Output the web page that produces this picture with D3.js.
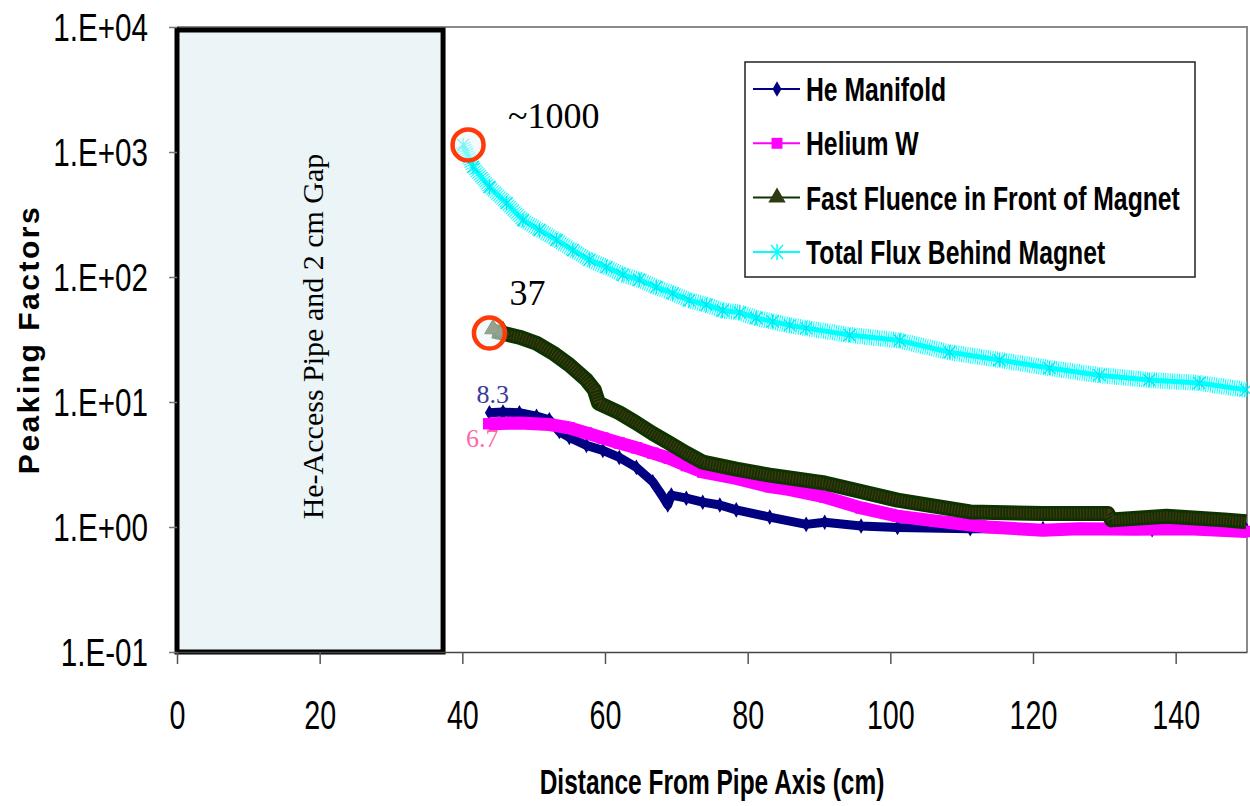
<!DOCTYPE html>
<html>
<head>
<meta charset="utf-8">
<script src="https://cdn.jsdelivr.net/npm/d3@7"></script>
<style>
    body { margin: 0; background: #fff; }
    text { font-family: "Liberation Sans", Arial, sans-serif; }
    .serif { font-family: "Liberation Serif", "Times New Roman", serif; }
</style>
</head>
<body>
<div id="chart"></div>
<script>
// axis ticks
const xTicks = [0, 20, 40, 60, 80, 100, 120, 140];
const yTicks = [0.1, 1, 10, 100, 1000, 10000];
const yTickLabels = ["1.E-01", "1.E+00", "1.E+01", "1.E+02", "1.E+03", "1.E+04"];

const seriesNames = ["He Manifold", "Helium W", "Fast Fluence in Front of Magnet", "Total Flux Behind Magnet"];

// shaded gap region (cm)
const gapBox = [0, 37.3];
const gapLabel = "He-Access Pipe and 2 cm Gap";

// [distance cm, peaking factor]
const heManifold = [
    [43.8, 8.2], [45.7, 8.3], [48.0, 8.2], [50.4, 7.7], [52.2, 7.2], [53.6, 5.8], [55.0, 5.2],
    [57.4, 4.5], [59.7, 4.1], [62.0, 3.6], [64.4, 3.0], [66.7, 2.3], [68.1, 1.75], [68.8, 1.5],
    [69.3, 1.8], [71.4, 1.7], [73.7, 1.58], [76.1, 1.5], [78.4, 1.37], [83.1, 1.2], [88.2, 1.05],
    [90.8, 1.09], [95.9, 1.02], [101.0, 0.99], [111.2, 0.97], [121.4, 0.97], [136.7, 0.95], [149.9, 0.95]
];
const heliumW = [
    [43.7, 6.7], [48.0, 6.8], [52.2, 6.6], [55.0, 6.2], [57.4, 5.65], [59.7, 5.15], [62.0, 4.7],
    [64.4, 4.3], [66.7, 3.9], [69.0, 3.55], [71.4, 3.1], [73.7, 2.75], [78.4, 2.45], [83.1, 2.1],
    [85.7, 2.0], [90.8, 1.74], [95.9, 1.42], [101.0, 1.22], [106.2, 1.12], [113.7, 1.0], [121.4, 0.94],
    [126.5, 0.97], [134.2, 0.96], [141.7, 0.97], [149.9, 0.92]
];
const fastFluence = [
    [44.3, 37], [45.7, 35.5], [48.0, 33], [50.4, 29.5], [52.7, 24.7], [55.0, 19.8], [57.4, 15],
    [58.5, 12.5], [59.1, 9.8], [62.0, 8.2], [64.4, 6.8], [66.7, 5.6], [69.0, 4.7], [71.4, 3.9],
    [73.7, 3.3], [78.4, 2.9], [83.1, 2.6], [90.8, 2.25], [101.0, 1.64], [111.2, 1.32], [121.4, 1.28],
    [130.5, 1.28], [131.0, 1.14], [138.7, 1.22], [146.8, 1.14], [149.9, 1.1]
];
const totalFlux = [
    [40.1, 1140], [41.5, 760], [43.8, 525], [46.2, 390], [48.5, 286], [50.8, 238], [53.2, 198],
    [55.5, 164], [57.8, 137], [60.2, 120], [62.5, 104], [64.8, 95], [67.2, 83], [69.5, 74],
    [71.8, 65], [74.2, 60], [76.5, 54], [78.9, 52], [81.2, 47], [83.5, 44], [85.9, 41], [88.2, 39],
    [94.3, 34.4], [101.3, 31], [108.3, 25], [115.3, 21.7], [122.3, 18.7], [129.3, 16.4],
    [136.3, 15], [143.3, 14.2], [149.9, 12.5]
];

// highlighted start points and their labels
const highlights = [[40.8, 1140], [43.8, 35.6]];
const notes = [
    {text: "~1000", x: 46.4, y: 1556, color: "#000", size: 36},
    {text: "37", x: 46.6, y: 59.7, color: "#000", size: 36},
    {text: "8.3", x: 42.0, y: 9.8, color: "#3a3a9a", size: 26},
    {text: "6.7", x: 40.5, y: 4.37, color: "#ff66aa", size: 26}
];

class PeakingChart {

    constructor(parentElement) {
        this.parentElement = parentElement;
        this.initVis();
    }

    initVis() {
        let vis = this;

        vis.margin = {top: 27, right: 3, bottom: 154, left: 177};
        vis.width = 1250 - vis.margin.left - vis.margin.right;
        vis.height = 806 - vis.margin.top - vis.margin.bottom;

        vis.root = d3.select("#" + vis.parentElement)
            .append("svg")
            .attr("width", 1250)
            .attr("height", 806);

        vis.svg = vis.root.append("g")
            .attr("transform", `translate(${vis.margin.left}, ${vis.margin.top})`);

        vis.xScale = d3.scaleLinear().domain([0, 150]).range([0, vis.width]);
        vis.yScale = d3.scaleLog().domain([0.1, 10000]).range([vis.height, 0]);

        vis.updateVis();
    }

    updateVis() {
        this.drawFrame();
        this.drawAxes();
        this.drawSeries();
        this.drawNotes();
        this.drawLegend();
    }

    drawFrame() {
        let vis = this;

        // thin grey plot border top and right
        vis.svg.append("path")
            .attr("d", `M0,0H${vis.width}V${vis.height}`)
            .attr("fill", "none")
            .attr("stroke", "#8a8a8a")
            .attr("stroke-width", 2);

        // gap box
        vis.svg.append("rect")
            .attr("x", vis.xScale(gapBox[0]))
            .attr("y", 3)
            .attr("width", vis.xScale(gapBox[1]) - vis.xScale(gapBox[0]))
            .attr("height", vis.height - 3)
            .attr("fill", "#ebf4f6")
            .attr("stroke", "#000")
            .attr("stroke-width", 5);

        vis.svg.append("text")
            .attr("class", "serif")
            .attr("transform", `translate(${vis.xScale((gapBox[0] + gapBox[1]) / 2) + 13}, ${vis.height / 2 - 3}) rotate(-90)`)
            .attr("text-anchor", "middle")
            .style("font-size", "30px")
            .text(gapLabel);
    }

    drawAxes() {
        let vis = this;

        let yAxis = d3.axisLeft(vis.yScale)
            .tickValues(yTicks)
            .tickFormat((d, i) => yTickLabels[i])
            .tickSize(8)
            .tickSizeOuter(0);

        let gy = vis.svg.append("g").attr("class", "y-axis").call(yAxis);
        gy.select(".domain").attr("stroke", "#000").attr("stroke-width", 3);
        gy.selectAll(".tick line").attr("stroke", "#777").attr("stroke-width", 1.5);
        gy.selectAll(".tick text")
            .attr("x", null)
            .attr("dy", "0.36em")
            .attr("transform", "translate(-29,0) scale(0.78,1)")
            .attr("fill", "#000")
            .style("font-size", "38px");

        let xAxis = d3.axisBottom(vis.xScale)
            .tickValues(xTicks)
            .tickSize(12)
            .tickSizeOuter(0);

        let gx = vis.svg.append("g")
            .attr("class", "x-axis")
            .attr("transform", `translate(0, ${vis.height})`)
            .call(xAxis);
        gx.select(".domain").attr("stroke", "#444").attr("stroke-width", 1.5);
        gx.selectAll(".tick line").attr("stroke", "#555").attr("stroke-width", 1.5);
        gx.selectAll(".tick text")
            .attr("y", 77)
            .attr("dy", null)
            .attr("transform", "scale(0.7,1)")
            .attr("fill", "#000")
            .style("font-size", "41px");

        // axis titles
        vis.root.append("text")
            .attr("transform", `translate(${vis.margin.left + vis.width / 2}, 794) scale(0.7,1)`)
            .attr("text-anchor", "middle")
            .style("font-size", "35px")
            .style("font-weight", "bold")
            .text("Distance From Pipe Axis (cm)");

        vis.root.append("text")
            .attr("transform", `translate(39, ${vis.margin.top + vis.height / 2}) rotate(-90)`)
            .attr("text-anchor", "middle")
            .style("font-size", "30px")
            .style("font-weight", "bold")
            .style("letter-spacing", "2.5px")
            .text("Peaking Factors");
    }

    drawSeries() {
        let vis = this;

        const line = d3.line()
            .x(d => vis.xScale(d[0]))
            .y(d => vis.yScale(d[1]));

        // He Manifold
        vis.svg.append("path")
            .datum(heManifold)
            .attr("fill", "none")
            .attr("stroke", "#000080")
            .attr("stroke-width", 9)
            .attr("stroke-linejoin", "round")
            .attr("d", line);
        vis.svg.append("g").selectAll("path")
            .data(heManifold)
            .join("path")
            .attr("transform", d => `translate(${vis.xScale(d[0])},${vis.yScale(d[1])})`)
            .attr("d", d3.symbol(d3.symbolDiamond).size(70))
            .attr("fill", "#000080");

        // Helium W
        vis.svg.append("path")
            .datum(heliumW)
            .attr("fill", "none")
            .attr("stroke", "#ff00ff")
            .attr("stroke-width", 13)
            .attr("d", line);
        vis.svg.append("g").selectAll("path")
            .data(heliumW)
            .join("path")
            .attr("transform", d => `translate(${vis.xScale(d[0])},${vis.yScale(d[1])})`)
            .attr("d", d3.symbol(d3.symbolSquare).size(130))
            .attr("fill", "#ff00ff");

        // Fast fluence
        vis.svg.append("path")
            .datum(fastFluence)
            .attr("fill", "none")
            .attr("stroke", "#0e3300")
            .attr("stroke-width", 15)
            .attr("stroke-linejoin", "round")
            .attr("d", line);
        vis.svg.append("path")
            .datum(fastFluence)
            .attr("fill", "none")
            .attr("stroke", "#4a3514")
            .attr("stroke-width", 9)
            .attr("stroke-dasharray", "1.2,1.8")
            .attr("d", line);
        vis.svg.append("g").selectAll("path")
            .data(fastFluence.slice(0, 2))
            .join("path")
            .attr("transform", d => `translate(${vis.xScale(d[0])},${vis.yScale(d[1]) - 2})`)
            .attr("d", d3.symbol(d3.symbolTriangle).size(120))
            .attr("fill", "#2f3a12")
            .attr("stroke", "#0e3300");

        // Total flux
        vis.svg.append("path")
            .datum(totalFlux)
            .attr("fill", "none")
            .attr("stroke", "#00ffff")
            .attr("stroke-width", 16)
            .attr("stroke-dasharray", "1,1.3")
            .attr("stroke-linejoin", "round")
            .attr("d", line);
        vis.svg.append("path")
            .datum(totalFlux)
            .attr("fill", "none")
            .attr("stroke", "#00ffff")
            .attr("stroke-width", 5)
            .attr("d", line);
        vis.svg.append("g").selectAll("path")
            .data(totalFlux)
            .join("path")
            .attr("transform", d => `translate(${vis.xScale(d[0])},${vis.yScale(d[1])})`)
            .attr("d", "M-6,-6L6,6M-6,6L6,-6M0,-7V7")
            .attr("stroke", "#00e8f0")
            .attr("stroke-width", 1.3);
    }

    drawNotes() {
        let vis = this;

        vis.svg.selectAll(".hl")
            .data(highlights)
            .join("circle")
            .attr("class", "hl")
            .attr("cx", d => vis.xScale(d[0]))
            .attr("cy", d => vis.yScale(d[1]))
            .attr("r", 15.5)
            .attr("fill", "rgba(235,245,245,0.55)")
            .attr("stroke", "#ff3a0a")
            .attr("stroke-width", 4.5);

        vis.svg.selectAll(".note")
            .data(notes)
            .join("text")
            .attr("class", "note serif")
            .attr("x", d => vis.xScale(d.x))
            .attr("y", d => vis.yScale(d.y))
            .attr("fill", d => d.color)
            .style("font-size", d => d.size + "px")
            .text(d => d.text);
    }

    drawLegend() {
        let vis = this;
        const colors = ["#000080", "#ff00ff", "#0e3300", "#00ffff"];

        let lg = vis.root.append("g").attr("transform", "translate(745, 62)");
        lg.append("rect")
            .attr("width", 450)
            .attr("height", 215)
            .attr("fill", "#fff")
            .attr("stroke", "#222")
            .attr("stroke-width", 1.5);

        let item = lg.selectAll(".item")
            .data(seriesNames)
            .join("g")
            .attr("class", "item")
            .attr("transform", (d, i) => `translate(0, ${27 + i * 54.3})`);

        item.append("line")
            .attr("x1", 8).attr("x2", 55)
            .attr("stroke", (d, i) => colors[i])
            .attr("stroke-width", 2);

        item.append("path")
            .attr("transform", "translate(32,0)")
            .attr("d", (d, i) => {
                if (i === 0) return d3.symbol(d3.symbolDiamond).size(70)();
                if (i === 1) return d3.symbol(d3.symbolSquare).size(120)();
                if (i === 2) return d3.symbol(d3.symbolTriangle).size(130)();
                return "M-6,-7L6,7M-6,7L6,-7M0,-8V8";
            })
            .attr("fill", (d, i) => i === 2 ? "#2f3a12" : colors[i])
            .attr("stroke", (d, i) => i === 3 ? "#00ffff" : "none")
            .attr("stroke-width", 1.5);

        item.append("text")
            .attr("transform", "translate(61, 12) scale(0.75,1)")
            .style("font-size", "33px")
            .style("font-weight", "bold")
            .text(d => d);
    }
}

new PeakingChart("chart");
</script>
</body>
</html>
